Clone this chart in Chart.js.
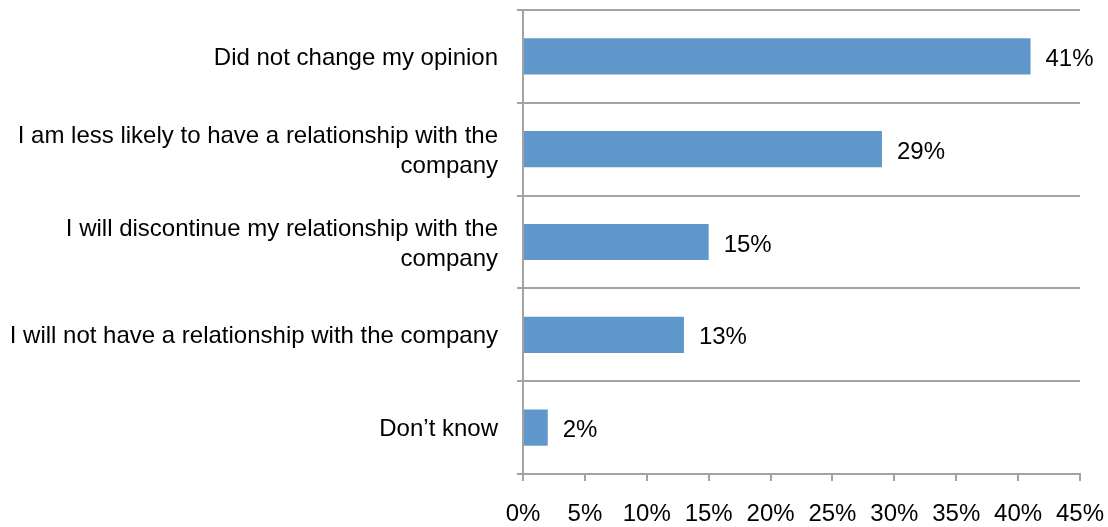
<!DOCTYPE html>
<html>
<head>
<meta charset="utf-8">
<script src="https://cdn.jsdelivr.net/npm/chart.js@4"></script>
<style>
  body { margin: 0; background: #fff; }
</style>
</head>
<body>
<canvas id="opinionChart" width="1108" height="527"></canvas>
<script>
// Survey answers, top to bottom
const answers = [
    'Did not change my opinion',
    ['I am less likely to have a relationship with the', 'company'],
    ['I will discontinue my relationship with the', 'company'],
    'I will not have a relationship with the company',
    'Don\u2019t know'
];
const shares = [41, 29, 15, 13, 2];
const xTicks = [0, 5, 10, 15, 20, 25, 30, 35, 40, 45];

const gridGray = '#a3a3a3';
const fontSpec = { family: '"Liberation Sans", Arial, sans-serif', size: 24, lineHeight: 1.25 };

// writes "NN%" just past the end of each bar
const barValueLabels = {
    id: 'barValueLabels',
    afterDatasetsDraw(chart) {
        const ctx = chart.ctx;
        const meta = chart.getDatasetMeta(0);
        ctx.save();
        ctx.font = '24px "Liberation Sans", Arial, sans-serif';
        ctx.fillStyle = '#000';
        ctx.textAlign = 'left';
        ctx.textBaseline = 'middle';
        meta.data.forEach((bar, i) => {
            ctx.fillText(shares[i] + '%', bar.x + 15, bar.y + 3);
        });
        ctx.restore();
    }
};

const ctx = document.getElementById('opinionChart').getContext('2d');
const opinionChart = new Chart(ctx, {
    type: 'bar',
    data: {
        labels: answers,
        datasets: [{
            data: shares,
            backgroundColor: '#6097cb',
            categoryPercentage: 1,
            barPercentage: 0.39
        }]
    },
    options: {
        indexAxis: 'y',
        responsive: false,
        animation: false,
        layout: { padding: { top: 10, right: 28, left: 0, bottom: 0 } },
        plugins: {
            legend: { display: false },
            tooltip: { enabled: false }
        },
        scales: {
            x: {
                min: 0,
                max: 45,
                afterBuildTicks(scale) {
                    scale.ticks = xTicks.map(v => ({ value: v }));
                },
                afterFit(scale) {
                    scale.height = 53;
                    scale.paddingLeft = 0;
                    scale.paddingRight = 0;
                },
                grid: {
                    drawOnChartArea: false,
                    drawTicks: true,
                    tickLength: 7,
                    color: gridGray,
                    lineWidth: 2
                },
                border: { display: true, color: gridGray, width: 2 },
                ticks: {
                    color: '#000',
                    font: fontSpec,
                    padding: 18,
                    maxRotation: 0,
                    callback: v => v + '%'
                }
            },
            y: {
                afterFit(scale) {
                    scale.width = 523;
                    scale.paddingTop = 0;
                    scale.paddingBottom = 0;
                },
                grid: {
                    offset: true,
                    drawTicks: true,
                    tickLength: 6,
                    color: gridGray,
                    lineWidth: 2
                },
                border: { display: true, color: gridGray, width: 2 },
                ticks: {
                    color: '#000',
                    font: fontSpec,
                    padding: 19,
                    labelOffset: 2
                }
            }
        }
    },
    plugins: [barValueLabels]
});
</script>
</body>
</html>
